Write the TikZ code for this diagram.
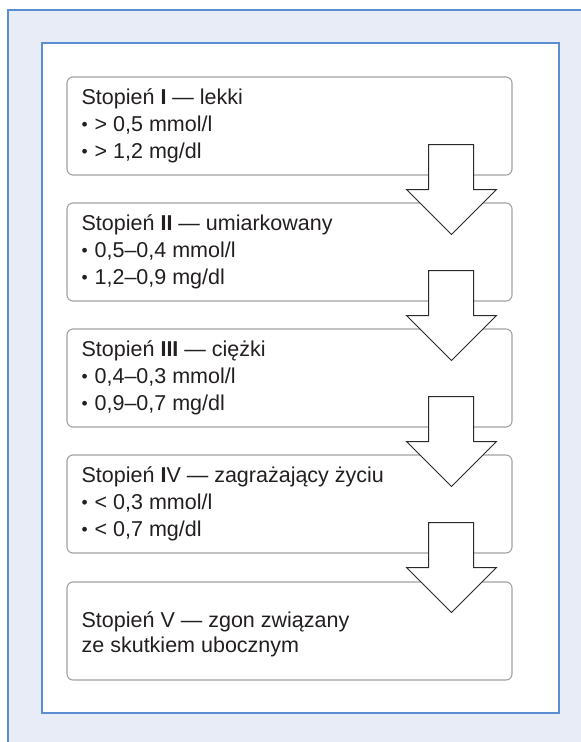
\documentclass[tikz,border=0pt]{standalone}
\usepackage{fontspec}
\setmainfont{Liberation Sans}
\usetikzlibrary{calc}
\definecolor{framebg}{HTML}{E8ECF6}
\definecolor{frameline}{HTML}{5A8ED0}
\definecolor{boxline}{HTML}{A2A2A4}
\definecolor{txtcol}{HTML}{231F20}
\definecolor{arrline}{HTML}{2A2A2A}
\newcommand{\blt}{\makebox[13pt][l]{\hspace{0pt}\raisebox{1.5pt}{\fontsize{17.5pt}{17.5pt}\selectfont •}}}
\tikzset{
  stagebox/.style={draw=boxline, line width=1.1pt, rounded corners=6pt, fill=white,
    minimum width=445pt, minimum height=98pt, inner sep=0pt},
  stagetext/.style={anchor=west, align=left, inner sep=0pt, text=txtcol,
    font=\fontsize{21.5pt}{27pt}\selectfont},
  stagetextb/.style={stagetext, font=\fontsize{21.5pt}{25pt}\selectfont},
  barrow/.style={draw=arrline, line width=0.9pt, fill=white, line join=miter}
}
\newcommand{\blockarrow}[1]{%
  \draw[barrow] ($(#1.south east)+(-84,31)$) -- ($(#1.south east)+(-39,31)$)
    -- ($(#1.south east)+(-39,-14)$) -- ($(#1.south east)+(-16,-14)$)
    -- ($(#1.south east)+(-61,-59)$) -- ($(#1.south east)+(-106,-14)$)
    -- ($(#1.south east)+(-84,-14)$) -- cycle;}
\begin{document}
\begin{tikzpicture}[x=1pt,y=1pt]
\useasboundingbox (0,0) rectangle (581,-742);
\begin{scope}
\clip (0,0) rectangle (581,-742);
\fill[white] (0,0) rectangle (581,-742);
\draw[draw=frameline, line width=1.5pt, fill=framebg] (8,-10) rectangle (600,-760);
\draw[draw=frameline, line width=1.5pt, fill=white] (42,-43) rectangle (559,-713);
\end{scope}
% boxes
\node[stagebox] (b1) at (289.5,-126) {};
\node[stagebox] (b2) at (289.5,-252) {};
\node[stagebox] (b3) at (289.5,-378) {};
\node[stagebox] (b4) at (289.5,-504) {};
\node[stagebox] (b5) at (289.5,-631) {};
% texts
\node[stagetext] (t1) at ($(b1.west)+(15,0)$) {Stopień \textbf{I} — lekki\\ \blt> 0,5 mmol/l\\ \blt> 1,2 mg/dl};
\node[stagetext] (t2) at ($(b2.west)+(15,0)$) {Stopień \textbf{II} — umiarkowany\\ \blt 0,5–0,4 mmol/l\\ \blt 1,2–0,9 mg/dl};
\node[stagetext] (t3) at ($(b3.west)+(15,0)$) {Stopień \textbf{III} — ciężki\\ \blt 0,4–0,3 mmol/l\\ \blt 0,9–0,7 mg/dl};
\node[stagetext] (t4) at ($(b4.west)+(15,0)$) {Stopień \textbf{I}V — zagrażający życiu\\ \blt< 0,3 mmol/l\\ \blt< 0,7 mg/dl};
\node[stagetextb] (t5) at ($(b5.west)+(15,-3)$) {Stopień V — zgon związany\\ ze skutkiem ubocznym};
% arrows
\blockarrow{b1}
\blockarrow{b2}
\blockarrow{b3}
\blockarrow{b4}
\end{tikzpicture}
\end{document}
